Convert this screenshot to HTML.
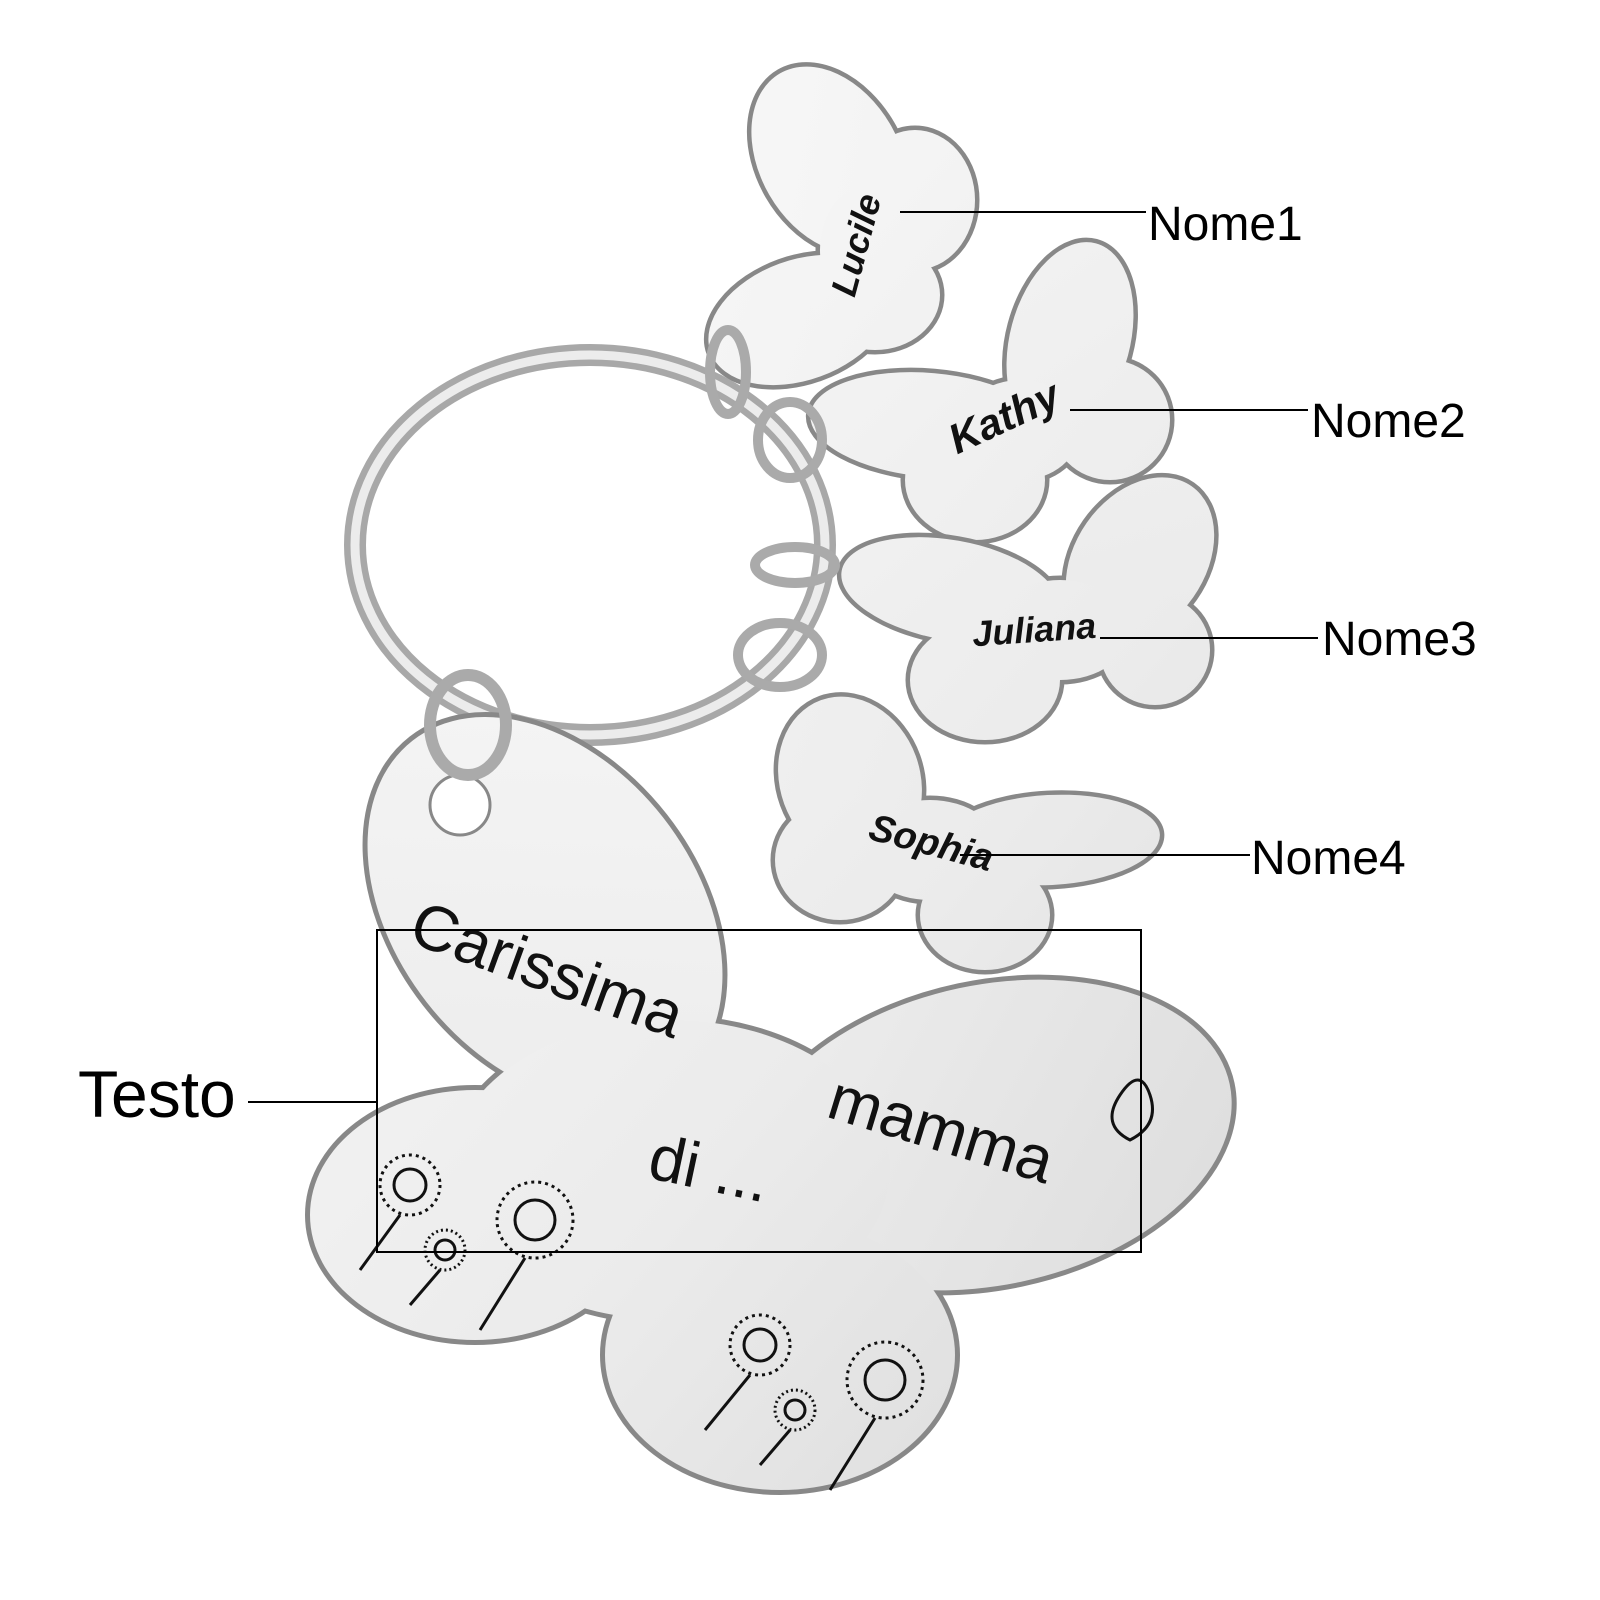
<!DOCTYPE html>
<html><head><meta charset="utf-8"><style>
html,body{margin:0;padding:0;background:#fff;width:1600px;height:1600px;overflow:hidden}
</style></head><body>
<svg width="1600" height="1600" viewBox="0 0 1600 1600" xmlns="http://www.w3.org/2000/svg">
<defs>
<linearGradient id="m" gradientUnits="userSpaceOnUse" x1="300" y1="700" x2="1250" y2="1500">
<stop offset="0" stop-color="#f6f6f6"/><stop offset="0.5" stop-color="#ebebeb"/><stop offset="1" stop-color="#d8d8d8"/>
</linearGradient>
<g id="b1">
<ellipse cx="830" cy="160" rx="70" ry="100" transform="rotate(-30 830 160)"/>
<ellipse cx="915" cy="200" rx="60" ry="70"/>
<ellipse cx="800" cy="320" rx="95" ry="60" transform="rotate(-20 800 320)"/>
<ellipse cx="875" cy="295" rx="65" ry="55"/>
<ellipse cx="860" cy="250" rx="40" ry="60"/>
</g>
<g id="b2">
<ellipse cx="1070" cy="340" rx="60" ry="100" transform="rotate(15 1070 340)"/>
<ellipse cx="1110" cy="420" rx="60" ry="60"/>
<ellipse cx="930" cy="425" rx="120" ry="52" transform="rotate(5 930 425)"/>
<ellipse cx="975" cy="480" rx="70" ry="60"/>
<ellipse cx="1020" cy="430" rx="60" ry="50"/>
</g>
<g id="b3">
<ellipse cx="1140" cy="560" rx="65" ry="90" transform="rotate(35 1140 560)"/>
<ellipse cx="1155" cy="650" rx="55" ry="55"/>
<ellipse cx="950" cy="590" rx="110" ry="50" transform="rotate(10 950 590)"/>
<ellipse cx="985" cy="680" rx="75" ry="60"/>
<ellipse cx="1060" cy="630" rx="70" ry="50"/>
</g>
<g id="b4">
<ellipse cx="850" cy="780" rx="70" ry="85" transform="rotate(-20 850 780)"/>
<ellipse cx="840" cy="860" rx="65" ry="60"/>
<ellipse cx="1050" cy="840" rx="110" ry="45" transform="rotate(-3 1050 840)"/>
<ellipse cx="985" cy="915" rx="65" ry="55"/>
<ellipse cx="930" cy="850" rx="70" ry="50"/>
</g>
<g id="bb">
<ellipse cx="545" cy="910" rx="215" ry="150" transform="rotate(52 545 910)"/>
<ellipse cx="990" cy="1135" rx="245" ry="150" transform="rotate(-12 990 1135)"/>
<ellipse cx="475" cy="1215" rx="165" ry="125"/>
<ellipse cx="780" cy="1355" rx="175" ry="135"/>
<ellipse cx="670" cy="1170" rx="220" ry="150"/>
</g>
</defs>
<g fill="none" stroke="#a8a8a8" stroke-width="22">
<ellipse cx="590" cy="545" rx="235" ry="190"/>
</g>
<g fill="none" stroke="#ececec" stroke-width="9">
<ellipse cx="590" cy="545" rx="235" ry="190"/>
</g>
<g fill="#888" stroke="#888" stroke-width="9"><use href="#b1"/></g>
<g fill="url(#m)" stroke="none"><use href="#b1"/></g>
<g fill="#888" stroke="#888" stroke-width="9"><use href="#b2"/></g>
<g fill="url(#m)" stroke="none"><use href="#b2"/></g>
<g fill="#888" stroke="#888" stroke-width="9"><use href="#b3"/></g>
<g fill="url(#m)" stroke="none"><use href="#b3"/></g>
<g fill="#888" stroke="#888" stroke-width="9"><use href="#b4"/></g>
<g fill="url(#m)" stroke="none"><use href="#b4"/></g>
<g fill="#888" stroke="#888" stroke-width="10"><use href="#bb"/></g>
<g fill="url(#m)" stroke="none"><use href="#bb"/></g>
<circle cx="460" cy="805" r="30" fill="#fff" stroke="#888" stroke-width="3"/>
<ellipse cx="468" cy="725" rx="38" ry="50" fill="none" stroke="#aaa" stroke-width="12"/>
<g fill="none" stroke="#aaa" stroke-width="10">
<ellipse cx="728" cy="372" rx="18" ry="42"/>
<ellipse cx="790" cy="440" rx="32" ry="38"/>
<ellipse cx="795" cy="565" rx="40" ry="18"/>
<ellipse cx="780" cy="655" rx="42" ry="32"/>
</g>
<g font-family="'Liberation Sans',sans-serif" font-style="italic" font-weight="bold" fill="#111">
<text x="868" y="248" font-size="36" transform="rotate(-75 868 248)" text-anchor="middle">Lucile</text>
<text x="1010" y="430" font-size="42" transform="rotate(-25 1010 430)" text-anchor="middle">Kathy</text>
<text x="1035" y="642" font-size="36" transform="rotate(-4 1035 642)" text-anchor="middle">Juliana</text>
<text x="928" y="855" font-size="38" transform="rotate(15 928 855)" text-anchor="middle">Sophia</text>
</g>
<g font-family="'Liberation Sans',sans-serif" fill="#111" font-size="64">
<text x="540" y="990" transform="rotate(20 540 990)" text-anchor="middle">Carissima</text>
<text x="935" y="1150" transform="rotate(17 935 1150)" text-anchor="middle">mamma</text>
<text x="705" y="1190" transform="rotate(12 705 1190)" text-anchor="middle">di ...</text>
</g>
<g fill="none" stroke="#111" stroke-width="3">
<circle cx="410" cy="1185" r="16"/><circle cx="410" cy="1185" r="30" stroke-dasharray="3 4"/>
<line x1="400" y1="1215" x2="360" y2="1270"/>
<circle cx="445" cy="1250" r="10"/><circle cx="445" cy="1250" r="20" stroke-dasharray="2 3"/>
<line x1="440" y1="1270" x2="410" y2="1305"/>
<circle cx="535" cy="1220" r="20"/><circle cx="535" cy="1220" r="38" stroke-dasharray="3 4"/>
<line x1="525" y1="1258" x2="480" y2="1330"/>
<circle cx="760" cy="1345" r="16"/><circle cx="760" cy="1345" r="30" stroke-dasharray="3 4"/>
<line x1="750" y1="1375" x2="705" y2="1430"/>
<circle cx="795" cy="1410" r="10"/><circle cx="795" cy="1410" r="20" stroke-dasharray="2 3"/>
<line x1="790" y1="1430" x2="760" y2="1465"/>
<circle cx="885" cy="1380" r="20"/><circle cx="885" cy="1380" r="38" stroke-dasharray="3 4"/>
<line x1="875" y1="1418" x2="830" y2="1490"/>
<path d="M1120 1095 q20 -30 30 0 q10 30 -20 45 q-30 -15 -10 -45z"/>
</g>
<g stroke="#000" stroke-width="2" fill="none">
<line x1="900" y1="212" x2="1146" y2="212"/>
<line x1="1070" y1="410" x2="1308" y2="410"/>
<line x1="1100" y1="638" x2="1318" y2="638"/>
<line x1="960" y1="855" x2="1250" y2="855"/>
<rect x="377" y="930" width="764" height="322"/>
<line x1="248" y1="1102" x2="377" y2="1102"/>
</g>
<g font-family="'Liberation Sans',sans-serif" fill="#000" font-size="48">
<text x="1148" y="240">Nome1</text>
<text x="1311" y="437">Nome2</text>
<text x="1322" y="655">Nome3</text>
<text x="1251" y="874">Nome4</text>
<text x="78" y="1117" font-size="66">Testo</text>
</g>
</svg>
</body></html>
